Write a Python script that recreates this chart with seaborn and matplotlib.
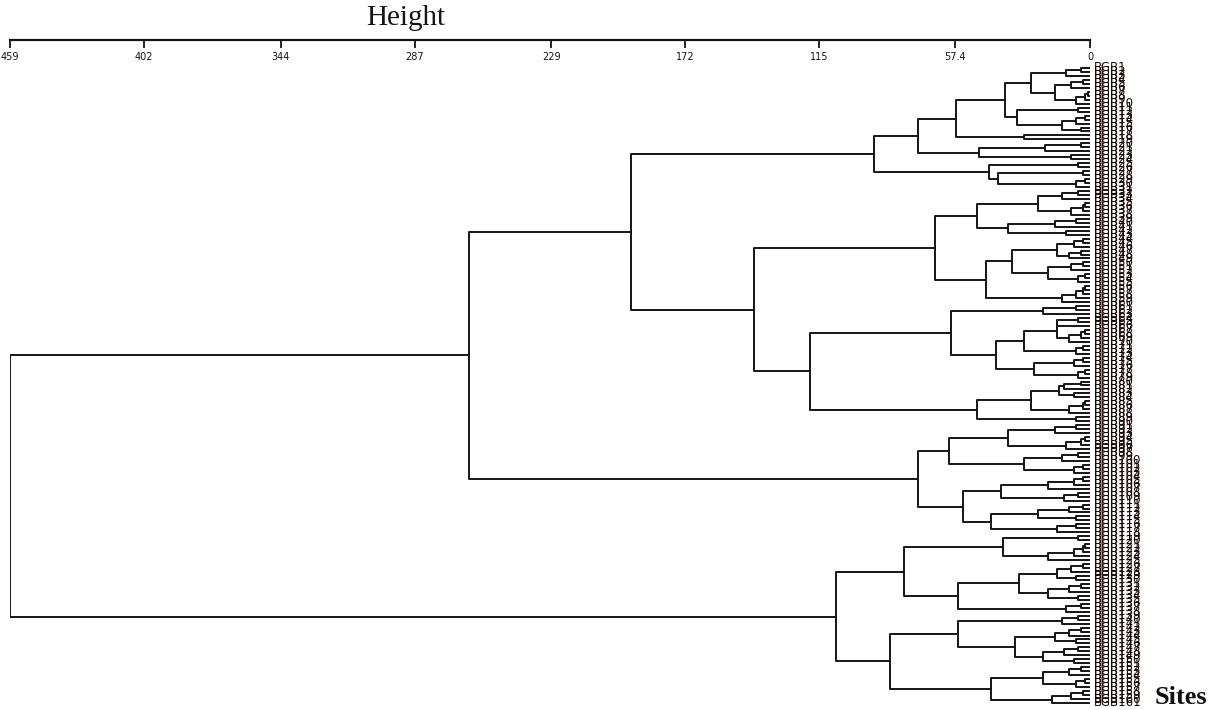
import numpy as np
import pandas as pd
import matplotlib
matplotlib.use("Agg")
import matplotlib.pyplot as plt
import seaborn as sns

# ---------------- data ----------------
tick_values = [459, 402, 344, 287, 229, 172, 115, 57.4, 0]
tick_labels = ["459", "402", "344", "287", "229", "172", "115", "57.4", "0"]
axis_title = "Height"
leaf_axis_title = "Sites"
label_prefix = "BGB"

# node = (merge height, upper child, lower child); list = tight bundle of leaves
# whose merge heights are listed from outer to inner (len + 1 leaves).
cluster_A1 = (92,
              (73,
               (57,
                (36, (25, [10, 4], (15, [8, 3], [6, 2, 1])),
                 (31, [5], (12, [6, 2], [4]))),
                [28]),
               (47, [19, 4], [8])),
              (43, [5], (39, [3], [6, 2])))
cluster_A2a = (66,
               (48, (22, [12, 5], [8, 3, 2]), (35, [15, 6], [10])),
               (44, (33, (14, [7, 3], [9, 4]), (18, [8, 3], [5, 2])), [12, 6, 3, 2]))
cluster_A2b = (119,
               (59, [20, 6],
                (40, (28, (14, [14, 5], [9, 4, 2]), [6, 3]), (24, [7, 3], [5, 2]))),
               (48, (25, (13, [11, 4], [7]), [9, 3, 2]), [6]))
cluster_B = (73,
             (60, (35, [15, 6], [10, 4, 2]), (28, [12, 5], [7, 3])),
             (54, (38, [18, 7, 3], [11, 5]), (42, (22, [9, 3], [6]), [14, 6])))
cluster_C = (108,
             (79, (37, [5], [18, 7, 3, 2]),
              (56, (30, (14, [8, 3], [6]), (18, [9, 4], [5])), [10, 4])),
             (85, (56, [12, 5], (32, (15, [9, 4], [6]), (20, [11, 5], [7]))),
              (42, (20, [9, 4], [6, 2]), [16, 8, 3])))
height_A2 = 143
height_A = 195
height_top = 264
height_root = 459

tree = (height_root,
        (height_top, (height_A, cluster_A1, (height_A2, cluster_A2a, cluster_A2b)), cluster_B),
        cluster_C)

# ---------------- build segments ----------------
def bundle(heights):
    node = "leaf"
    for h in reversed(heights):
        node = (h, node, "leaf")
    return node

segments = []
counter = [0]

def walk(node):
    if isinstance(node, list):
        node = bundle(node)
    if node == "leaf":
        y = counter[0]
        counter[0] += 1
        return y, 0.0
    h, left, right = node
    yl, hl = walk(left)
    yr, hr = walk(right)
    sid = len(segments)
    segments.append([(sid, hl, yl, 0), (sid, h, yl, 1), (sid, h, yr, 2), (sid, hr, yr, 3)])
    return (yl + yr) / 2.0, h

walk(tree)
n_leaves = counter[0]
rows = [r for seg in segments for r in seg]
df = pd.DataFrame(rows, columns=["seg", "height", "pos", "order"])

# ---------------- figure ----------------
sns.set_theme(style="white")
plt.rcParams["font.family"] = ["DejaVu Sans"]
W, H = 1215, 710
fig = plt.figure(figsize=(W / 100, H / 100), dpi=100)
ax_top_px = 40
ax = fig.add_axes([10 / W, 0.0, 1080 / W, (H - ax_top_px) / H])

sns.lineplot(data=df, x="height", y="pos", units="seg", estimator=None, sort=False,
             color="#151515", linewidth=1.4, ax=ax, legend=False)

px_per_leaf = (703 - 68) / (n_leaves - 1)
y_top = -(68 - ax_top_px) / px_per_leaf
y_bot = y_top + (H - ax_top_px) / px_per_leaf
ax.set_ylim(y_bot, y_top)
ax.set_xlim(459, 0)

for s in ["bottom", "left", "right"]:
    ax.spines[s].set_visible(False)
ax.spines["top"].set_color("#151515")
ax.spines["top"].set_linewidth(1.6)
ax.set_yticks([])
ax.xaxis.tick_top()
ax.set_xticks(tick_values)
ax.set_xticklabels(tick_labels)
ax.tick_params(axis="x", direction="in", length=6, width=1.3, color="#151515",
               labelsize=7, pad=-16, labelcolor="#151515")
ax.set_xlabel("")
ax.set_ylabel("")

for i in range(n_leaves):
    ax.annotate(f"{label_prefix}{i + 1}", xy=(0, i), xytext=(3, 0), textcoords="offset points",
                va="center", ha="left", fontsize=8.5, color="#1a0805", annotation_clip=False)

fig.text(406 / W, 1 - 18 / H, axis_title, ha="center", va="center",
         family="Liberation Serif", fontsize=21, color="#151515")
fig.text(1181 / W, 1 - 697 / H, leaf_axis_title, ha="center", va="center",
         family="Liberation Serif", fontweight="bold", fontsize=19, color="#111111")

fig.savefig("out.png", dpi=100)
